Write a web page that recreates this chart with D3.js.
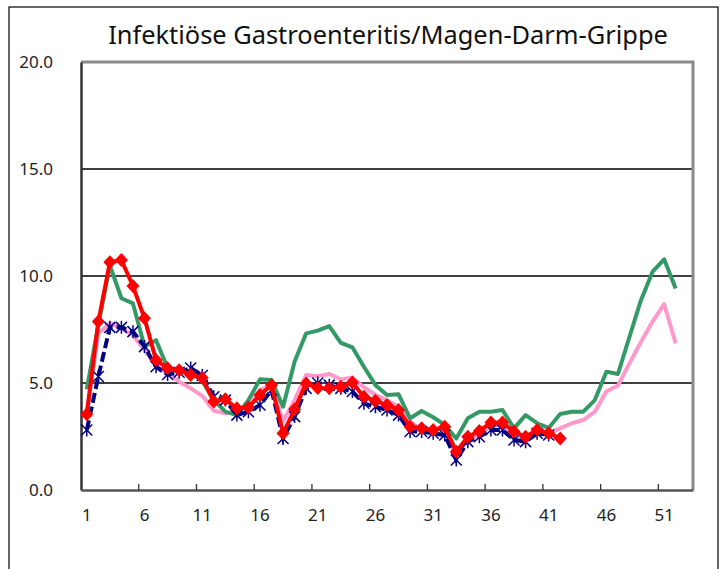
<!DOCTYPE html>
<html><head><meta charset="utf-8">
<script src="https://cdn.jsdelivr.net/npm/d3@7"></script>
<style>html,body{margin:0;padding:0;background:#fff;}svg{display:block;}</style>
</head><body>
<svg id="chart" width="726" height="569"></svg>
<script>
const title = "Infektiöse Gastroenteritis/Magen-Darm-Grippe";
const weeks = d3.range(1, 54);
const xTickLabels = [1, 6, 11, 16, 21, 26, 31, 36, 41, 46, 51];
const yTicks = [0, 5, 10, 15, 20];
const seriesGreen = [4.7,7.7,10.5,8.96,8.72,6.7,7.0,5.7,5.53,5.47,5.1,
  4.2,3.66,3.5,4.2,5.17,5.14,3.89,6.0,7.32,7.45,
  7.66,6.88,6.67,5.76,4.9,4.44,4.47,3.35,3.69,3.4,
  3.04,2.41,3.35,3.66,3.66,3.74,2.88,3.5,3.12,2.9,
  3.55,3.66,3.66,4.2,5.53,5.42,7.16,8.88,10.2,10.78,9.42];
const seriesPink = [3.6,7.3,7.8,7.55,7.24,6.54,5.84,5.45,5.06,4.75,4.4,
  3.7,3.58,3.66,3.89,4.67,4.9,3.2,4.2,5.37,5.32,
  5.42,5.17,5.26,4.8,4.44,4.2,3.89,3.19,2.8,2.7,
  2.5,1.7,2.3,2.6,3.0,3.0,2.4,2.3,2.6,2.65,
  2.88,3.12,3.27,3.66,4.6,4.88,5.92,6.93,7.87,8.69,6.85];
const seriesBlue = [2.8,5.3,7.6,7.6,7.4,6.7,5.76,5.4,5.5,5.7,5.35,
  4.36,4.2,3.5,3.66,3.97,4.67,2.41,3.43,4.75,5.0,
  4.9,4.75,4.6,4.05,3.89,3.74,3.5,2.73,2.73,2.65,
  2.57,1.40,2.26,2.49,2.8,2.8,2.34,2.26,2.65,2.57];
const seriesRed = [3.54,7.87,10.64,10.75,9.53,8.02,6.07,5.69,5.6,5.37,5.25,
  4.13,4.24,3.82,3.86,4.44,4.91,2.65,3.77,4.98,4.77,
  4.75,4.83,5.02,4.36,4.17,3.97,3.74,2.96,2.88,2.8,
  2.96,1.79,2.49,2.76,3.15,3.15,2.73,2.49,2.8,2.65,
  2.41];

const FONT = "'Noto Sans', 'DejaVu Sans', sans-serif";
const svg = d3.select("#chart");
const L = 81, R = 693, T = 62, B = 490;

// outer frame
svg.append("rect").attr("x", 9).attr("y", 7).attr("width", 709).attr("height", 600)
  .attr("fill", "none").attr("stroke", "#000").attr("stroke-width", 1.2);

const x = d3.scaleBand().domain(weeks).range([L, R]).paddingInner(0).paddingOuter(0);
const y = d3.scaleLinear().domain([0, 20]).range([B, T]);
const cx = w => x(w) + x.bandwidth() / 2;

// gridlines
svg.append("g").selectAll("line").data(yTicks.filter(t => t > 0 && t < 20)).join("line")
  .attr("x1", L).attr("x2", R).attr("y1", d => y(d)).attr("y2", d => y(d))
  .attr("stroke", "#000").attr("stroke-width", 1.3);

// top and right frame (gray)
svg.append("path").attr("d", `M${L},${T}H${R}V${B}`).attr("fill", "none")
  .attr("stroke", "#8a8a8a").attr("stroke-width", 3);

// y axis
const yAxis = d3.axisLeft(y).tickValues(yTicks).tickFormat(d3.format(".1f")).tickSize(0).tickPadding(28);
const gy = svg.append("g").attr("transform", `translate(${L},0)`).call(yAxis);
gy.select(".domain").attr("stroke", "#333").attr("stroke-width", 2.5);
gy.selectAll("text").attr("font-family", FONT).attr("font-size", 17).attr("fill", "#222");

// x axis
const xAxis = d3.axisBottom(x).tickValues(xTickLabels).tickSize(0).tickPadding(19);
const gx = svg.append("g").attr("transform", `translate(0,${B})`).call(xAxis);
gx.select(".domain").attr("stroke", "#555").attr("stroke-width", 2.5);
gx.selectAll("text").attr("font-family", FONT).attr("font-size", 17).attr("fill", "#222");
// inner tick marks at category boundaries
svg.append("g").selectAll("line").data(xTickLabels.slice(1)).join("line")
  .attr("x1", d => x(d)).attr("x2", d => x(d)).attr("y1", B).attr("y2", B - 6)
  .attr("stroke", "#333").attr("stroke-width", 1.3);

const line = d3.line().x((d, i) => cx(weeks[i])).y(d => y(d));

svg.append("path").datum(seriesPink).attr("d", line).attr("fill", "none")
  .attr("stroke", "#ff99cc").attr("stroke-width", 4).attr("stroke-linejoin", "round");
svg.append("path").datum(seriesGreen).attr("d", line).attr("fill", "none")
  .attr("stroke", "#339966").attr("stroke-width", 4).attr("stroke-linejoin", "round");
svg.append("path").datum(seriesBlue).attr("d", line).attr("fill", "none")
  .attr("stroke", "#000080").attr("stroke-width", 4).attr("stroke-dasharray", "10,4");
svg.append("g").selectAll("path").data(seriesBlue).join("path")
  .attr("transform", (d, i) => `translate(${cx(weeks[i])},${y(d)})`)
  .attr("d", "M-5.5,-5.5L5.5,5.5M-5.5,5.5L5.5,-5.5M0,-6.5L0,6.5")
  .attr("stroke", "#000080").attr("stroke-width", 1.5).attr("fill", "none");
svg.append("path").datum(seriesRed).attr("d", line).attr("fill", "none")
  .attr("stroke", "#ff0000").attr("stroke-width", 4).attr("stroke-linejoin", "round");
svg.append("g").selectAll("path").data(seriesRed).join("path")
  .attr("transform", (d, i) => `translate(${cx(weeks[i])},${y(d)})`)
  .attr("d", "M0,-7L6.5,0L0,7L-6.5,0Z").attr("fill", "#ff0000");

// title
const t = svg.append("text").attr("x", 388).attr("y", 44).attr("text-anchor", "middle")
  .attr("font-family", FONT).attr("font-size", 20).attr("fill", "#111").text(title);
const w = t.node().getComputedTextLength();
t.attr("font-size", 20 * 560 / w);
</script>
</body></html>
